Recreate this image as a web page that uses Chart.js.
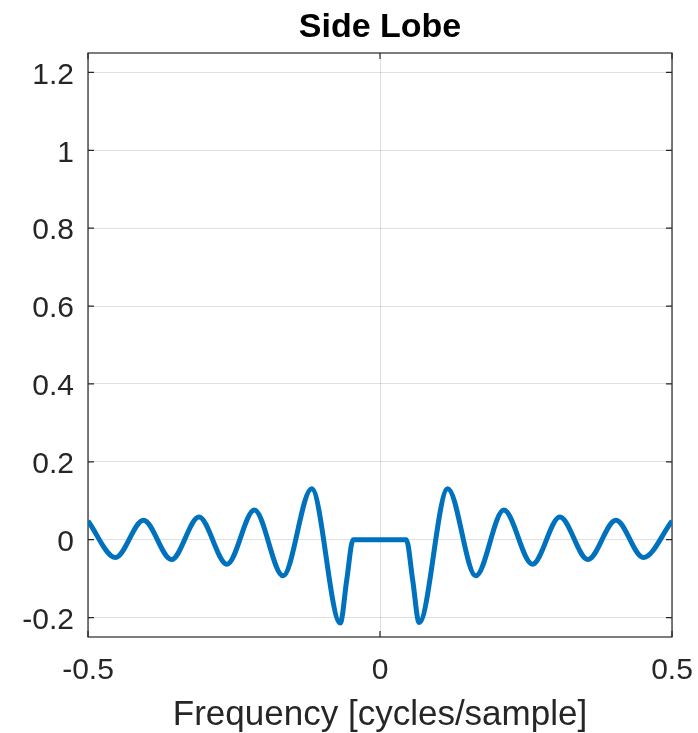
<!DOCTYPE html>
<html>
<head>
<meta charset="utf-8">
<script src="https://cdn.jsdelivr.net/npm/chart.js@4.4.1/dist/chart.umd.min.js"></script>
<style>
  html, body { margin: 0; padding: 0; background: #fff; }
  #wrap { width: 698px; height: 733px; }
</style>
</head>
<body>
<div id="wrap"><canvas id="sidelobe"></canvas></div>
<script>
// side lobe extrema (cycles/sample), main lobe between the two edges zeroed
const freq = [
  -0.5, -0.453, -0.405, -0.357, -0.31, -0.262, -0.215, -0.166, -0.117, -0.068,
  -0.057, -0.046, 0.045, 0.056, 0.067, 0.116, 0.164, 0.212, 0.261, 0.308,
  0.356, 0.404, 0.451, 0.5
];
const sideLobe = [
  0.048, -0.046, 0.05, -0.051, 0.058, -0.063, 0.076, -0.093, 0.131, -0.214,
  -0.104, 0, 0, -0.104, -0.213, 0.131, -0.093, 0.076, -0.063, 0.058,
  -0.051, 0.05, -0.046, 0.048
];
const xTicks = [-0.5, 0, 0.5];
const yTicks = [-0.2, 0, 0.2, 0.4, 0.6, 0.8, 1, 1.2];
const plotTitle = 'Side Lobe';

const FONT = '"Liberation Sans", Arial, Helvetica, sans-serif';
const axisColor = '#262626';
const gridColor = 'rgba(38,38,38,0.15)';

// box around the plot area with MATLAB-style inward tick marks
const axesBox = {
  id: 'axesBox',
  beforeDatasetsDraw(chart) {
    const { ctx, chartArea: a, scales } = chart;
    const len = 6;
    ctx.save();
    ctx.strokeStyle = axisColor;
    ctx.lineWidth = 1.2;
    ctx.strokeRect(a.left, a.top, a.right - a.left, a.bottom - a.top);
    ctx.beginPath();
    xTicks.forEach(v => {
      const px = scales.x.getPixelForValue(v);
      ctx.moveTo(px, a.bottom); ctx.lineTo(px, a.bottom - len);
      ctx.moveTo(px, a.top); ctx.lineTo(px, a.top + len);
    });
    yTicks.forEach(v => {
      const py = scales.y.getPixelForValue(v);
      ctx.moveTo(a.left, py); ctx.lineTo(a.left + len, py);
      ctx.moveTo(a.right, py); ctx.lineTo(a.right - len, py);
    });
    ctx.stroke();
    ctx.restore();
  }
};

// title centred over the plot area rather than the whole canvas
const axesTitle = {
  id: 'axesTitle',
  afterDraw(chart) {
    const { ctx, chartArea: a } = chart;
    ctx.save();
    ctx.fillStyle = '#000';
    ctx.font = 'bold 34px ' + FONT;
    ctx.textAlign = 'center';
    ctx.textBaseline = 'alphabetic';
    ctx.fillText(plotTitle, (a.left + a.right) / 2, 37);
    ctx.restore();
  }
};

new Chart(document.getElementById('sidelobe'), {
  type: 'line',
  data: {
    datasets: [{
      data: freq.map((f, i) => ({ x: f, y: sideLobe[i] })),
      borderColor: '#0072BD',
      borderWidth: 5,
      pointRadius: 0,
      fill: false,
      cubicInterpolationMode: 'monotone',
      clip: 0
    }]
  },
  options: {
    responsive: true,
    maintainAspectRatio: false,
    animation: false,
    layout: { padding: { left: 0, right: 26, top: 53, bottom: 0 } },
    plugins: {
      legend: { display: false },
      tooltip: { enabled: false },
      title: { display: false }
    },
    scales: {
      x: {
        type: 'linear',
        min: -0.5,
        max: 0.5,
        afterBuildTicks: s => { s.ticks = xTicks.map(v => ({ value: v })); },
        afterFit: s => {
          s.height = 96;
          // end labels may hang past the plot box; the layout padding covers them
          s.paddingLeft = 0;
          s.paddingRight = 0;
        },
        border: { display: false },
        grid: { color: gridColor, drawTicks: false },
        ticks: {
          color: axisColor,
          font: { family: FONT, size: 30 },
          padding: 16,
          maxRotation: 0,
          callback: v => String(v)
        },
        title: {
          display: true,
          text: 'Frequency [cycles/sample]',
          color: axisColor,
          font: { family: FONT, size: 35, lineHeight: 1 },
          padding: { top: 0, bottom: 0 }
        }
      },
      y: {
        min: -0.25,
        max: 1.25,
        afterBuildTicks: s => { s.ticks = yTicks.map(v => ({ value: v })); },
        afterFit: s => { s.width = 88; },
        border: { display: false },
        grid: { color: gridColor, drawTicks: false },
        ticks: {
          color: axisColor,
          font: { family: FONT, size: 30 },
          padding: 14,
          labelOffset: 3,
          callback: v => String(v)
        }
      }
    }
  },
  plugins: [axesBox, axesTitle]
});
</script>
</body>
</html>
